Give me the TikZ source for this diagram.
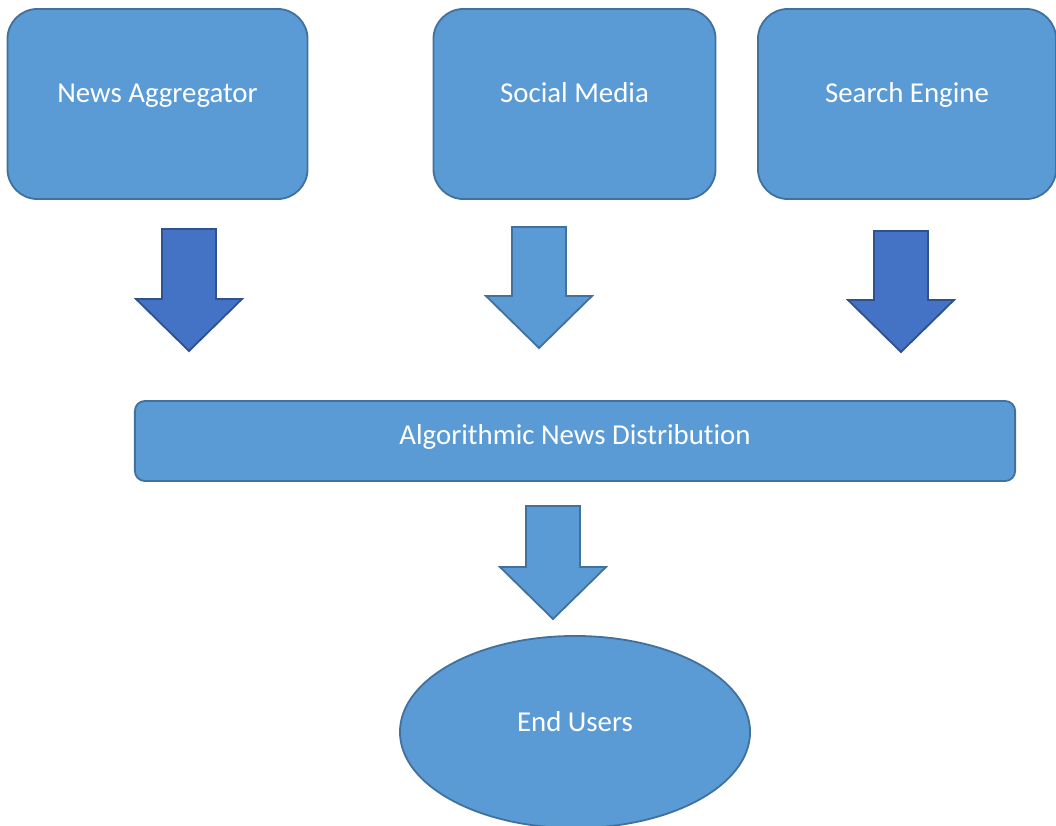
\documentclass[tikz,border=0pt]{standalone}
\usepackage{fontspec}
\setmainfont[Ligatures=NoCommon]{Carlito}
\usetikzlibrary{shapes.geometric}
\definecolor{boxblue}{HTML}{5B9BD5}
\definecolor{boxline}{HTML}{41719C}
\definecolor{darkblue}{HTML}{4472C4}
\definecolor{darkline}{HTML}{2F528F}
% block arrow pointing down: centre x, top y, shaft length, fill, line
\newcommand{\blockdown}[5]{%
  \draw[line width=1.3pt, line join=miter, fill=#4, draw=#5]
    (#1-27,#2) -- (#1+27,#2) -- (#1+27,#2+#3) -- (#1+53,#2+#3)
    -- (#1,#2+#3+52) -- (#1-53,#2+#3) -- (#1-27,#2+#3) -- cycle;}

\begin{document}
\begin{tikzpicture}[x=0.025cm, y=-0.025cm,
    every node/.style={font=\fontsize{20.5}{24}\selectfont, text=white},
    srcbox/.style={draw=boxline, fill=boxblue, line width=1.3pt, rounded corners=0.75cm,
      minimum width=7.5cm, minimum height=4.75cm, text height=13pt, text depth=15pt},
    barbox/.style={draw=boxline, fill=boxblue, line width=1.3pt, rounded corners=0.25cm,
      minimum width=22cm, minimum height=2cm, text height=13pt, text depth=8pt},
    userell/.style={ellipse, draw=boxline, fill=boxblue, line width=1.3pt,
      minimum width=8.75cm, minimum height=4.8cm, inner sep=0pt, text height=13pt, text depth=14pt}]
  \useasboundingbox (0,0) rectangle (1056,826);

  % sources
  \node[srcbox] (news) at (157.5,104) {News Aggregator};
  \node[srcbox, minimum width=7.05cm] (social) at (574.5,104) {Social Media};
  \node[srcbox, minimum width=7.45cm] (search) at (907,104) {Search Engine};

  % arrows down to the distribution bar
  \blockdown{189}{229}{70}{darkblue}{darkline}
  \blockdown{539}{227}{69}{boxblue}{boxline}
  \blockdown{901}{231}{69}{darkblue}{darkline}

  % distribution
  \node[barbox] (algo) at (575,441) {Algorithmic News Distribution};

  % arrow down to the users
  \blockdown{553}{506}{61}{boxblue}{boxline}

  % users
  \node[userell] (users) at (575,732) {End Users};
\end{tikzpicture}
\end{document}
